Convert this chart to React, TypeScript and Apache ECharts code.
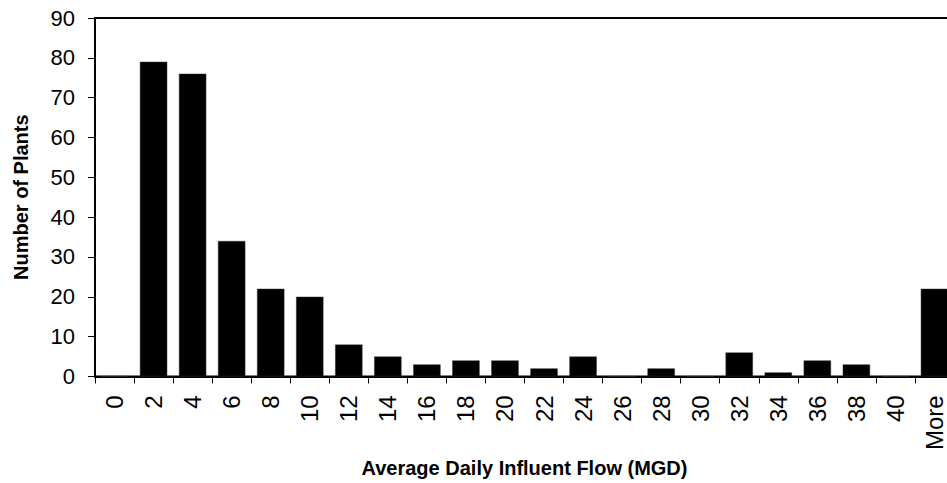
import React, { useEffect, useRef } from "react";
import * as echarts from "echarts";

// Histogram bins: average daily influent flow (MGD), upper bound of each bin
const flowBins = ["0", "2", "4", "6", "8", "10", "12", "14", "16", "18", "20", "22", "24", "26", "28", "30", "32", "34", "36", "38", "40", "More"];
// Number of plants in each bin
const plantCounts = [0, 79, 76, 34, 22, 20, 8, 5, 3, 4, 4, 2, 5, 0, 2, 0, 6, 1, 4, 3, 0, 22];
const yTicks = { min: 0, max: 90, interval: 10 };

const FONT = "'Liberation Sans', Arial, Helvetica, sans-serif";

export default function App() {
  const ref = useRef<HTMLDivElement>(null);

  useEffect(() => {
    if (!ref.current) return;
    const chart = echarts.init(ref.current, null, { renderer: "svg" });
    chart.setOption({
      animation: false,
      backgroundColor: "#ffffff",
      grid: {
        left: 95,
        right: 16,
        top: 18,
        bottom: 101,
        show: true,
        borderColor: "#000",
        borderWidth: 2,
        containLabel: false,
      },
      xAxis: {
        type: "category",
        data: flowBins,
        boundaryGap: true,
        name: "Average Daily Influent Flow (MGD)",
        nameLocation: "middle",
        nameGap: 80,
        nameTextStyle: { fontFamily: FONT, fontSize: 20, fontWeight: "bold", color: "#000" },
        axisLine: { show: true, lineStyle: { color: "#000", width: 2 } },
        axisTick: { show: true, alignWithLabel: false, length: 7, lineStyle: { color: "#000", width: 1 } },
        axisLabel: {
          rotate: 90,
          interval: 0,
          margin: 19,
          fontFamily: FONT,
          fontSize: 24,
          color: "#000",
        },
        splitLine: { show: false },
      },
      yAxis: {
        type: "value",
        min: yTicks.min,
        max: yTicks.max,
        interval: yTicks.interval,
        name: "Number of Plants",
        nameLocation: "middle",
        nameGap: 64,
        nameTextStyle: { fontFamily: FONT, fontSize: 20, fontWeight: "bold", color: "#000" },
        axisLine: { show: true, lineStyle: { color: "#000", width: 2 } },
        axisTick: { show: true, length: 7, lineStyle: { color: "#000", width: 1 } },
        axisLabel: { margin: 20, fontFamily: FONT, fontSize: 22, color: "#000" },
        splitLine: { show: false },
      },
      series: [
        {
          type: "bar",
          data: plantCounts,
          barCategoryGap: "30%",
          itemStyle: { color: "#000", borderColor: "#333", borderWidth: 0.5 },
        },
      ],
    });
    return () => chart.dispose();
  }, []);

  return (
    <div style={{ position: "fixed", left: 0, top: 0, width: 947, height: 483, overflow: "hidden", background: "#fff" }}>
      <div ref={ref} style={{ width: 970, height: 483 }} />
    </div>
  );
}
